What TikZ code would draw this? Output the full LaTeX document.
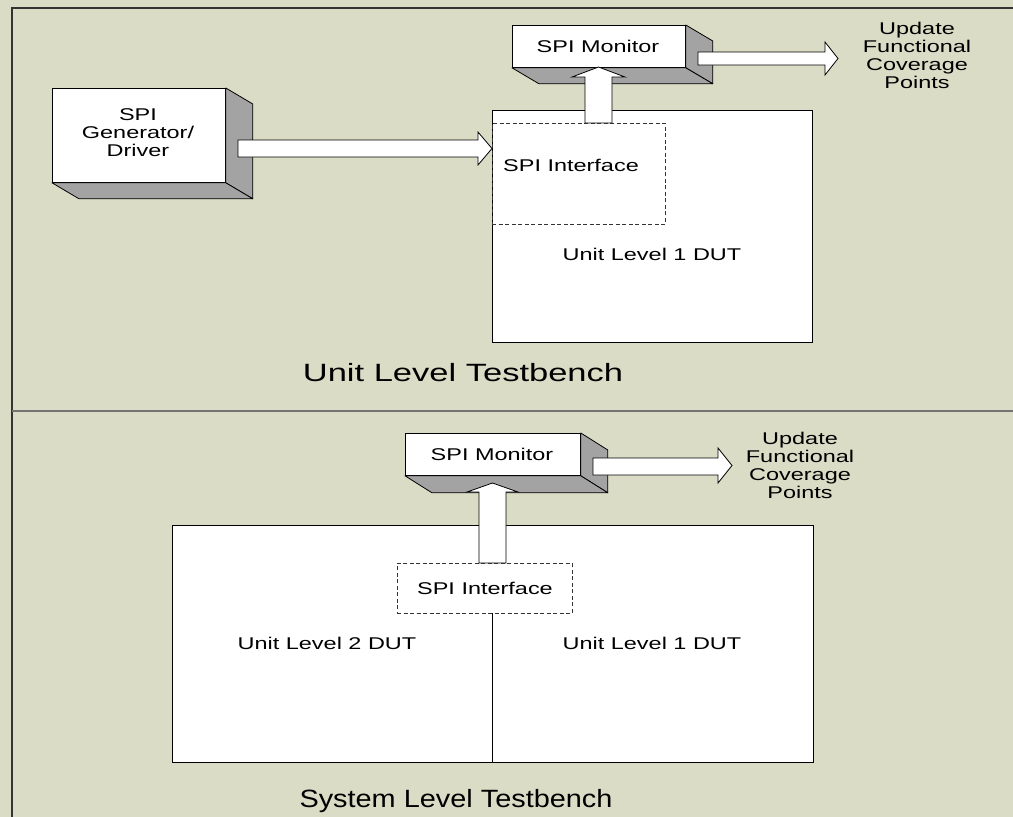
\documentclass[tikz,border=0pt]{standalone}
\usepackage{fontspec}
\setmainfont{Liberation Sans}
\usepackage{graphicx}
\usetikzlibrary{calc}
\definecolor{bg}{HTML}{DADCC6}
\definecolor{sidegray}{HTML}{A3A3A3}
\newcommand{\wtxt}[1]{\scalebox{1.38}[1]{#1}}
\newcommand{\stk}[1]{\begin{tabular}{@{}c@{}}#1\end{tabular}}
\begin{document}
\begin{tikzpicture}[x=1pt,y=-1pt,
  txt/.style={font=\fontsize{17}{17.7}\selectfont, inner sep=0pt},
  big/.style={font=\fontsize{25}{28}\selectfont, inner sep=0pt},
  front/.style={draw=black, fill=white, line width=0.8pt, inner sep=0pt, anchor=north west},
  sideface/.style={draw=black, fill=sidegray, line width=0.8pt, line join=round},
  dutbox/.style={draw=black, fill=white, line width=0.8pt, inner sep=0pt, anchor=north west},
  ifcbox/.style={draw=black!80, dash pattern=on 4pt off 2.5pt, line width=0.8pt, inner sep=0pt, anchor=north west},
  blockarrow/.style={draw=black, fill=white, line width=0.8pt, line join=miter},
  framebar/.style={line width=1.5pt, draw=black!80},
  divbar/.style={line width=1.5pt, draw=black!55}
]
\useasboundingbox (0,0) rectangle (1013,817);
\fill[bg] (0,0) rectangle (1013,817);
% frame
\draw[framebar] (12,817) -- (12,8) -- (1013,8);
\draw[divbar] (12,411) -- (1013,411);

% ---------- Unit level ----------
\node[dutbox, minimum width=320pt, minimum height=232pt] (dut1) at (492,110) {};
\node[ifcbox, minimum width=173pt, minimum height=101pt] (ifc1) at (492,123) {};
\node[txt, anchor=west] (ifc1t) at (503,165) {\wtxt{SPI Interface}};
\node[txt] (dut1t) at (652,254) {\wtxt{Unit Level 1 DUT}};

% generator 3D box
\node[front, minimum width=173pt, minimum height=94pt] (gen) at (52,88) {};
\draw[sideface] (gen.north east) -- ++(27,16) -- ($(gen.south east)+(27,16)$) -- (gen.south east) -- cycle;
\draw[sideface] (gen.south west) -- (gen.south east) -- ++(27,16) -- ($(gen.south west)+(27,16)$) -- cycle;
\node[txt] (gent) at (138,135) {\wtxt{\stk{SPI\\Generator/\\Driver}}};

% monitor 1 3D box
\node[front, minimum width=173pt, minimum height=42pt] (mon1) at (512,25) {};
\draw[sideface] (mon1.north east) -- ++(27,16) -- ($(mon1.south east)+(27,16)$) -- (mon1.south east) -- cycle;
\draw[sideface] (mon1.south west) -- (mon1.south east) -- ++(27,16) -- ($(mon1.south west)+(27,16)$) -- cycle;
\node[txt] (mon1t) at (598,46) {\wtxt{SPI Monitor}};

% arrows
\draw[blockarrow] (238,140) -- (478,140) -- (478,132) -- (ifc1.west |- 0,148.5) -- (478,165) -- (478,157) -- (238,157) -- cycle;
\draw[blockarrow] (698,52) -- (825,52) -- (825,42) -- (838,58.5) -- (825,75) -- (825,65) -- (698,65) -- cycle;
\draw[blockarrow] (585,123) -- (585,77) -- (572,77) -- (598.5,67) -- (625,77) -- (612,77) -- (612,123) -- cycle;

\node[txt] (upd1) at (917,58) {\wtxt{\stk{Update\\Functional\\Coverage\\Points}}};
\node[big] (ult) at (463,373) {\wtxt{Unit Level Testbench}};

% ---------- System level ----------
\node[dutbox, minimum width=641pt, minimum height=237pt] (sys) at (172,525) {};
\node[ifcbox, minimum width=175pt, minimum height=50pt] (ifc2) at (397,563) {};
\draw[line width=0.8pt] (492,613) -- (492,762);
\node[txt] (ifc2t) at (485,588) {\wtxt{SPI Interface}};
\node[txt] (dut2t) at (327,643) {\wtxt{Unit Level 2 DUT}};
\node[txt] (dut3t) at (652,643) {\wtxt{Unit Level 1 DUT}};

% monitor 2 3D box
\node[front, minimum width=175pt, minimum height=42pt] (mon2) at (405,433) {};
\draw[sideface] (mon2.north east) -- ++(27,17) -- ($(mon2.south east)+(27,17)$) -- (mon2.south east) -- cycle;
\draw[sideface] (mon2.south west) -- (mon2.south east) -- ++(27,17) -- ($(mon2.south west)+(27,17)$) -- cycle;
\node[txt] (mon2t) at (492,454) {\wtxt{SPI Monitor}};

\draw[blockarrow] (593,458) -- (718,458) -- (718,448) -- (732,465.5) -- (718,483) -- (718,475) -- (593,475) -- cycle;
\draw[blockarrow] (479,563) -- (479,492) -- (467,492) -- (492.5,483) -- (518,492) -- (506,492) -- (506,563) -- cycle;

\node[txt] (upd2) at (800,468) {\wtxt{\stk{Update\\Functional\\Coverage\\Points}}};
\node[big] (slt) at (456,801) {\scalebox{1.155}[1]{System Level Testbench}};
\end{tikzpicture}
\end{document}
